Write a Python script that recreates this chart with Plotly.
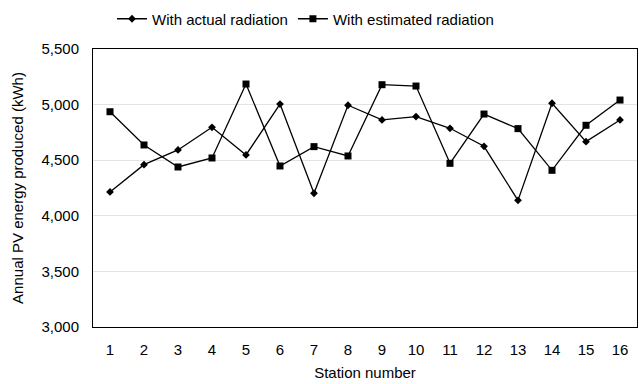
import plotly.graph_objects as go

stations = [str(i) for i in range(1, 17)]
actual = [4215, 4460, 4592, 4796, 4547, 5005, 4203, 4994, 4862, 4892,
          4787, 4625, 4139, 5012, 4667, 4862]
estimated = [4936, 4637, 4439, 4520, 5185, 4448, 4622, 4538, 5179, 5167,
             4472, 4915, 4784, 4409, 4814, 5041]
y_ticks = [3000, 3500, 4000, 4500, 5000, 5500]
y_tick_text = ["3,000", "3,500", "4,000", "4,500", "5,000", "5,500"]

font = dict(family="Liberation Sans, Arial, sans-serif", size=15, color="black")

fig = go.Figure()
fig.add_trace(go.Scatter(
    x=stations, y=actual, mode="lines+markers", name="With actual radiation",
    line=dict(color="black", width=1.3),
    marker=dict(symbol="diamond", size=6, color="black"),
))
fig.add_trace(go.Scatter(
    x=stations, y=estimated, mode="lines+markers", name="With estimated radiation",
    line=dict(color="black", width=1.3),
    marker=dict(symbol="square", size=7, color="black"),
))

fig.update_layout(
    width=639, height=384,
    margin=dict(l=93, r=2, t=49, b=57),
    paper_bgcolor="white", plot_bgcolor="white",
    font=font,
    showlegend=True,
    legend=dict(orientation="h", xref="container", yref="container",
                x=112 / 639, xanchor="left", y=1 - 19 / 384, yanchor="middle",
                font=font, itemwidth=30, tracegroupgap=0,
                bgcolor="rgba(0,0,0,0)"),
    xaxis=dict(type="category", range=[-0.5, 15.5], showgrid=False,
               showline=True, linecolor="black", linewidth=1, mirror=True,
               ticks="", ticklen=0, ticklabelstandoff=9,
               title=dict(text="Station number", standoff=10, font=font),
               tickfont=font),
    yaxis=dict(range=[3000, 5500], tickvals=y_ticks, ticktext=y_tick_text,
               showgrid=True, gridcolor="#e3e3e3", gridwidth=1,
               showline=True, linecolor="black", linewidth=1, mirror=True,
               ticks="", zeroline=False, ticklabelstandoff=10,
               title=dict(text="Annual PV energy produced (kWh)", standoff=14, font=font),
               tickfont=font),
)

fig.write_html("out.html")
